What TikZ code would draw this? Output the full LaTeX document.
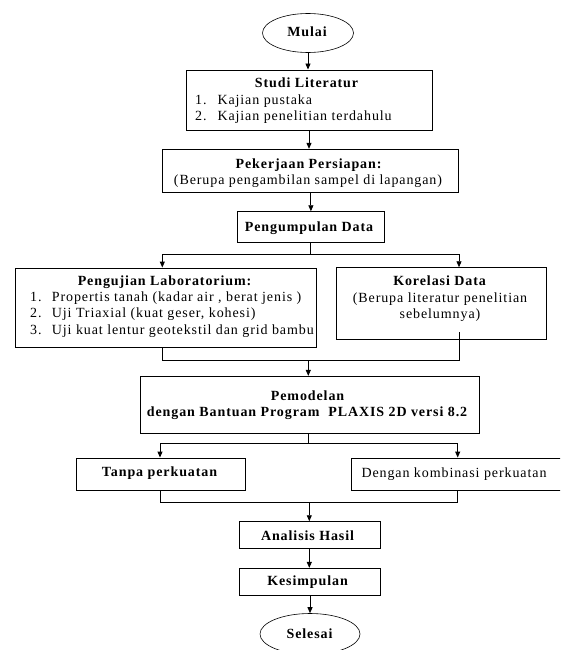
\documentclass[tikz,border=0pt]{standalone}
\usepackage{fontspec}
\setmainfont{Liberation Serif}[LetterSpace=6.5]
\usetikzlibrary{shapes.geometric,arrows.meta,calc}
\begin{document}
\begin{tikzpicture}[x=1pt,y=-1pt,
  every node/.style={font=\fontsize{14pt}{16pt}\selectfont},
  box/.style={draw,line width=0.9pt,rectangle,inner sep=0pt},
  oval/.style={draw,line width=0.6pt,ellipse,inner sep=0pt},
  txt/.style={inner sep=0pt,anchor=base},
  txtw/.style={inner sep=0pt,anchor=base west},
  ln/.style={line width=0.9pt},
  arr/.style={line width=0.9pt,-{Triangle[length=6pt,width=5pt]}}]
\useasboundingbox (0,0) rectangle (560,650);
\clip (0,0) rectangle (560,650);
% shapes
\node[oval,minimum width=91pt,minimum height=39pt] (mulai) at (308,33) {};
\node[box,minimum width=246pt,minimum height=60pt] (studi) at (309,100) {};
\node[box,minimum width=296pt,minimum height=43.4pt] (persiapan) at (310.2,171) {};
\node[box,minimum width=146.3pt,minimum height=31pt] (kumpul) at (310.9,227.2) {};
\node[box,minimum width=301pt,minimum height=79pt] (lab) at (165.5,307.5) {};
\node[box,minimum width=210pt,minimum height=72pt] (korelasi) at (441,303.7) {};
\node[box,minimum width=339pt,minimum height=56.7pt] (pemodelan) at (309.5,404.7) {};
\node[box,minimum width=169pt,minimum height=32pt] (tanpa) at (161.2,474) {};
\node[box,minimum width=223.3pt,minimum height=32pt] (dengan) at (463.4,474) {};
\node[box,minimum width=141pt,minimum height=26.6pt] (analisis) at (309.5,535) {};
\node[box,minimum width=141pt,minimum height=26.7pt] (kesimpulan) at (309.5,581.7) {};
\node[oval,minimum width=100pt,minimum height=41pt] (selesai) at (310,634) {};
% texts
\node[txt] (tmulai) at (307.5,37) {\textbf{Mulai}};
\node[txt] (tstudi) at (307,88) {\textbf{Studi Literatur}};
\node[txtw] (s1n) at (195,104.5) {1.};
\node[txtw] (s1) at (217.3,104.5) {Kajian pustaka};
\node[txtw] (s2n) at (195,121) {2.};
\node[txtw] (s2) at (217.3,121) {Kajian penelitian terdahulu};
\node[txt] (tpers1) at (309,168) {\textbf{Pekerjaan Persiapan:}};
\node[txt] (tpers2) at (308,184.5) {(Berupa pengambilan sampel di lapangan)};
\node[txt] (tkumpul) at (309.5,231.5) {\textbf{Pengumpulan Data}};
\node[txt] (tlab) at (165,285.5) {\textbf{Pengujian Laboratorium:}};
\node[txtw] (l1n) at (30,301) {1.};
\node[txtw] (l1) at (51.7,301) {Propertis tanah (kadar air , berat jenis )};
\node[txtw] (l2n) at (30,317.5) {2.};
\node[txtw] (l2) at (51.7,317.5) {Uji Triaxial (kuat geser, kohesi)};
\node[txtw] (l3n) at (30,334) {3.};
\node[txtw] (l3) at (51.7,334) {Uji kuat lentur geotekstil dan grid bambu};
\node[txt] (tkor1) at (440,285.5) {\textbf{Korelasi Data}};
\node[txt] (tkor2) at (440,302) {(Berupa literatur penelitian};
\node[txt] (tkor3) at (440,318.5) {sebelumnya)};
\node[txt] (tpem1) at (308,400) {\textbf{Pemodelan}};
\node[txt] (tpem2) at (307.5,416.5) {\textbf{dengan Bantuan Program \ PLAXIS 2D versi 8.2}};
\node[txt] (ttanpa) at (160,476.7) {\textbf{Tanpa perkuatan}};
\node[txt] (tdengan) at (454,477) {Dengan kombinasi perkuatan};
\node[txt] (tanalisis) at (308,540) {\textbf{Analisis Hasil}};
\node[txt] (tkesimpulan) at (308,585.7) {\textbf{Kesimpulan}};
\node[txt] (tselesai) at (310,638) {\textbf{Selesai}};
% junction coordinates
\coordinate (j1) at (310.9,254);
\coordinate (j1l) at (162.3,254);
\coordinate (j1r) at (459,254);
\coordinate (k0) at (459,332);
\coordinate (m1l) at (162.3,360);
\coordinate (m1r) at (459,360);
\coordinate (m1) at (308.3,360);
\coordinate (j2) at (308.3,443.3);
\coordinate (j2l) at (160,443.3);
\coordinate (j2r) at (457.7,443.3);
\coordinate (m2l) at (160,502.3);
\coordinate (m2r) at (457.7,502.3);
\coordinate (m2) at (309.3,502.3);
% connectors
\draw[arr] (mulai.south) -- (mulai.south |- studi.north);
\draw[arr] (studi.south) -- (studi.south |- persiapan.north);
\draw[arr] (persiapan.south -| kumpul.south) -- (kumpul.north);
\draw[ln] (kumpul.south) -- (j1);
\draw[ln] (j1l) -- (j1r);
\draw[arr] (j1l) -- (j1l |- lab.north);
\draw[arr] (j1r) -- (j1r |- korelasi.north);
\draw[ln] (lab.south -| m1l) -- (m1l) -- (m1r) -- (k0);
\draw[arr] (m1) -- (m1 |- pemodelan.north);
\draw[ln] (pemodelan.south -| j2) -- (j2);
\draw[ln] (j2l) -- (j2r);
\draw[arr] (j2l) -- (j2l |- tanpa.north);
\draw[arr] (j2r) -- (j2r |- dengan.north);
\draw[ln] (tanpa.south -| m2l) -- (m2l) -- (m2r) -- (dengan.south -| m2r);
\draw[arr] (m2) -- (m2 |- analisis.north);
\draw[arr] (analisis.south -| m2) -- (m2 |- kesimpulan.north);
\draw[arr] (kesimpulan.south -| selesai.north) -- (selesai.north);
\end{tikzpicture}
\end{document}
